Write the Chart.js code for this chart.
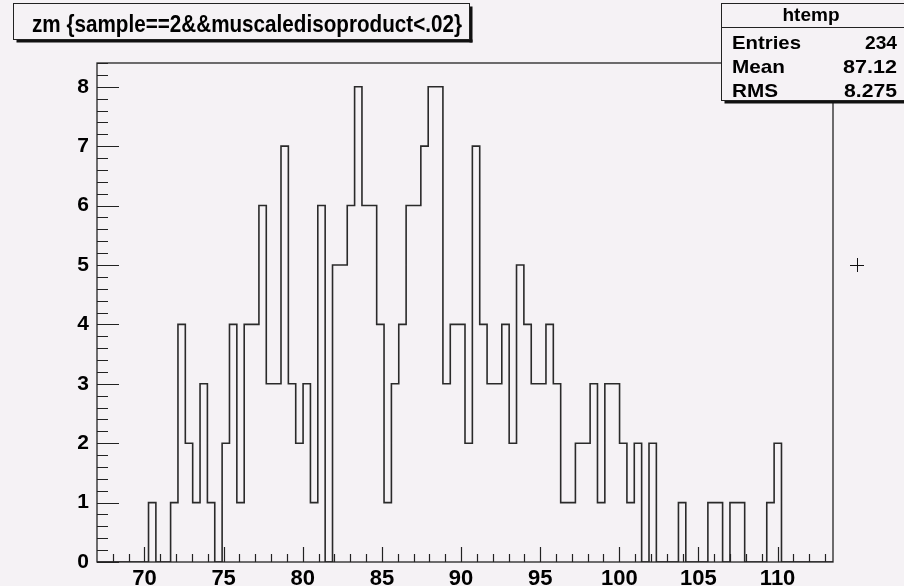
<!DOCTYPE html>
<html>
<head>
<meta charset="utf-8">
<script src="https://cdn.jsdelivr.net/npm/chart.js@4/dist/chart.umd.min.js"></script>
<style>
  body { margin: 0; background: #f5f2f5; }
  canvas { display: block; }
</style>
</head>
<body>
<canvas id="histo" width="904" height="586"></canvas>
<script>
// histogram htemp: 100 bins from 67.0 to 113.5
const binLow = 67.0;
const binWidth = 0.465;
const binCounts = [
  0, 0, 0, 0, 0, 0, 0, 1, 0, 0,
  1, 4, 2, 1, 3, 1, 0, 2, 4, 1,
  4, 4, 6, 3, 3, 7, 3, 2, 3, 1,
  6, 0, 5, 5, 6, 8, 6, 6, 4, 1,
  3, 4, 6, 6, 7, 8, 8, 3, 4, 4,
  2, 7, 4, 3, 3, 4, 2, 5, 4, 3,
  3, 4, 3, 1, 1, 2, 2, 3, 1, 3,
  3, 2, 1, 2, 0, 2, 0, 0, 0, 1,
  0, 0, 0, 1, 1, 0, 1, 1, 0, 0,
  0, 1, 2, 0, 0, 0, 0, 0, 0, 0
];
const xTickValues = [70, 75, 80, 85, 90, 95, 100, 105, 110];
const yTickValues = [0, 1, 2, 3, 4, 5, 6, 7, 8];
const titleText = 'zm {sample==2&&muscaledisoproduct<.02}';
const statsName = 'htemp';
const statsLabels = ['Entries', 'Mean', 'RMS'];
const statsValues = ['234', '87.12', '8.275'];

const bg = '#f5f2f5';
const ink = '#000000';
const FONT = '"Liberation Sans", Arial, Helvetica, sans-serif';

// step outline points at bin edges
const points = binCounts.map((c, i) => ({ x: binLow + i * binWidth, y: c }));
points.push({ x: binLow + binCounts.length * binWidth, y: binCounts[binCounts.length - 1] });

// draw text squeezed to a given width (root fonts are taller than arial)
function fitText(ctx, txt, x, y, size, width, align) {
  ctx.save();
  ctx.font = 'bold ' + size + 'px ' + FONT;
  const w = ctx.measureText(txt).width;
  const k = width / w;
  let left = x;
  if (align === 'center') left = x - width / 2;
  if (align === 'right') left = x - width;
  ctx.translate(left, y);
  ctx.scale(k, 1);
  ctx.textAlign = 'left';
  ctx.fillText(txt, 0, 0);
  ctx.restore();
}

const rootPlugin = {
  id: 'rootStyle',
  beforeDraw(chart) {
    const ctx = chart.ctx;
    ctx.save();
    ctx.fillStyle = bg;
    ctx.fillRect(0, 0, chart.width, chart.height);
    ctx.restore();
  },
  afterDraw(chart) {
    const ctx = chart.ctx;
    const a = chart.chartArea;
    const xs = chart.scales.x;
    const ys = chart.scales.y;
    ctx.save();

    // frame
    ctx.strokeStyle = '#222';
    ctx.lineWidth = 1.3;
    ctx.strokeRect(a.left, a.top, a.right - a.left, a.bottom - a.top);

    // x ticks (inside, bottom only)
    ctx.lineWidth = 1.2;
    ctx.beginPath();
    for (let v = 68; v <= 113; v++) {
      const px = Math.round(xs.getPixelForValue(v)) + 0.5;
      const len = v % 5 === 0 ? 15 : 8;
      ctx.moveTo(px, a.bottom);
      ctx.lineTo(px, a.bottom - len);
    }
    // y ticks (inside, left only)
    for (let i = 0; i <= 42; i++) {
      const v = i * 0.2;
      const py = Math.round(ys.getPixelForValue(v)) + 0.5;
      const len = i % 5 === 0 ? 22 : 11;
      ctx.moveTo(a.left, py);
      ctx.lineTo(a.left + len, py);
    }
    ctx.stroke();

    // title box
    const tb = { l: 13.5, t: 3.5, r: 469.5, b: 39.5 };
    ctx.fillStyle = '#111';
    ctx.fillRect(tb.l + 3, tb.b, tb.r - tb.l, 3);
    ctx.fillRect(tb.r, tb.t + 3, 3, tb.b - tb.t);
    ctx.fillStyle = bg;
    ctx.fillRect(tb.l, tb.t, tb.r - tb.l, tb.b - tb.t);
    ctx.strokeStyle = '#222';
    ctx.lineWidth = 1;
    ctx.strokeRect(tb.l, tb.t, tb.r - tb.l, tb.b - tb.t);
    ctx.fillStyle = ink;
    fitText(ctx, titleText, 32, 32, 24, 430, 'left');

    // stats box
    const sb = { l: 721.5, t: 3.5, r: 906, b: 100.5 };
    ctx.fillStyle = '#111';
    ctx.fillRect(sb.l + 3, sb.b, sb.r - sb.l, 3);
    ctx.fillStyle = bg;
    ctx.fillRect(sb.l, sb.t, sb.r - sb.l, sb.b - sb.t);
    ctx.strokeStyle = '#222';
    ctx.strokeRect(sb.l, sb.t, sb.r - sb.l, sb.b - sb.t);
    ctx.beginPath();
    ctx.moveTo(sb.l, 27.5);
    ctx.lineTo(sb.r, 27.5);
    ctx.stroke();
    ctx.fillStyle = ink;
    fitText(ctx, statsName, 811, 21, 19, 57, 'center');
    const rowY = [48.5, 73, 96.5];
    const labW = [69, 53, 46];
    const valW = [32, 54, 53];
    statsLabels.forEach((lab, i) => {
      fitText(ctx, lab, 732, rowY[i], 19, labW[i], 'left');
      fitText(ctx, statsValues[i], 897, rowY[i], 19, valW[i], 'right');
    });

    // cursor cross
    ctx.strokeStyle = '#111';
    ctx.lineWidth = 1;
    ctx.beginPath();
    ctx.moveTo(850, 265.5); ctx.lineTo(864, 265.5);
    ctx.moveTo(857.5, 258); ctx.lineTo(857.5, 272);
    ctx.stroke();

    ctx.restore();
  }
};

new Chart(document.getElementById('histo').getContext('2d'), {
  type: 'line',
  data: {
    datasets: [{
      label: 'htemp',
      data: points,
      stepped: 'before',
      borderColor: '#2a2a2a',
      borderWidth: 1.6,
      pointRadius: 0,
      fill: false,
      tension: 0
    }]
  },
  options: {
    responsive: false,
    animation: false,
    events: [],
    layout: { padding: { top: 63, right: 71, left: 0, bottom: 0 } },
    plugins: {
      legend: { display: false },
      title: { display: false },
      tooltip: { enabled: false }
    },
    scales: {
      x: {
        type: 'linear',
        min: binLow,
        max: binLow + binCounts.length * binWidth,
        grid: { display: false, drawTicks: false },
        border: { display: false },
        afterBuildTicks: (axis) => { axis.ticks = xTickValues.map(v => ({ value: v })); },
        afterFit: (s) => { s.height = 24; },
        ticks: {
          autoSkip: false,
          maxRotation: 0,
          padding: 4,
          color: ink,
          font: { family: FONT, size: 22, weight: 'bold' }
        }
      },
      y: {
        type: 'linear',
        min: 0,
        max: 8.4,
        grid: { display: false, drawTicks: false },
        border: { display: false },
        afterBuildTicks: (axis) => { axis.ticks = yTickValues.map(v => ({ value: v })); },
        afterFit: (s) => { s.width = 97; },
        ticks: {
          padding: 8,
          color: ink,
          font: { family: FONT, size: 21, weight: 'bold' }
        }
      }
    }
  },
  plugins: [rootPlugin]
});
</script>
</body>
</html>
